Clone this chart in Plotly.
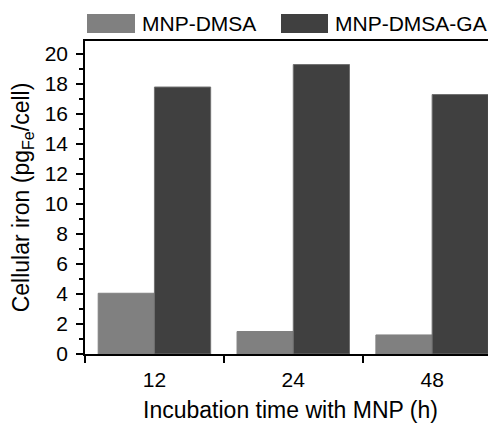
import plotly.graph_objects as go

categories = ["12", "24", "48"]
mnp_dmsa = [4.05, 1.5, 1.27]
mnp_dmsa_ga = [17.8, 19.3, 17.3]
series_names = ["MNP-DMSA", "MNP-DMSA-GA"]
y_ticks = list(range(0, 21, 2))

FONT = "Liberation Sans, Arial, sans-serif"
C1 = "#808080"
C2 = "#404040"

fig = go.Figure()
fig.add_trace(go.Bar(x=categories, y=mnp_dmsa, name=series_names[0],
                     marker=dict(color=C1, line=dict(color=C1, width=1)), showlegend=False))
fig.add_trace(go.Bar(x=categories, y=mnp_dmsa_ga, name=series_names[1],
                     marker=dict(color=C2, line=dict(color="#707070", width=1)), showlegend=False))

# page has an 8px body margin; figure origin at (8, 8)
OFF = 8
W, H = 496 - OFF, 423 - OFF
L, R, T, B = 85 - OFF, 0, 41 - OFF, 423 - 354
pw = W - L - R
ph = H - T - B

def px2paper_x(px):
    return (px - OFF - L) / pw

def px2paper_y(py):
    return (H - B - (py - OFF)) / ph

# custom legend (large swatches)
legend_items = [(87, 135, 142), (281, 328, 335)]
for (x0, x1, tx), name, col in zip(legend_items, series_names, [C1, C2]):
    fig.add_shape(type="rect", xref="paper", yref="paper",
                  x0=px2paper_x(x0), x1=px2paper_x(x1),
                  y0=px2paper_y(33), y1=px2paper_y(14),
                  fillcolor=col, line=dict(width=0))
    fig.add_annotation(xref="paper", yref="paper", x=px2paper_x(tx), y=px2paper_y(23.5),
                       text=name, showarrow=False, xanchor="left", yanchor="middle",
                       xshift=-2, font=dict(family=FONT, size=21, color="black"))

fig.update_layout(
    width=W, height=H,
    margin=dict(l=L, r=R, t=T, b=B, pad=0),
    plot_bgcolor="white", paper_bgcolor="white",
    barmode="group", bargap=0.19, bargroupgap=0,
    font=dict(family=FONT, size=21, color="black"),
    xaxis=dict(
        type="category", range=[-0.5, 2.46],
        showline=True, linecolor="black", linewidth=1.5, mirror=True,
        ticks="outside", tickson="boundaries", ticklen=7, tickcolor="black", tickwidth=1.5,
        ticklabelstandoff=6,
        showgrid=False, zeroline=False,
        title=dict(text="Incubation time with MNP (h)", standoff=12,
                   font=dict(family=FONT, size=23)),
        tickfont=dict(family=FONT, size=21),
        automargin=False,
    ),
    yaxis=dict(
        range=[0, 20.87],
        tickvals=y_ticks,
        showline=True, linecolor="black", linewidth=1.5, mirror=True,
        ticks="outside", ticklen=7, tickcolor="black", tickwidth=1.5,
        ticklabelstandoff=4,
        minor=dict(dtick=1, ticks="outside", ticklen=4, tickcolor="black", tickwidth=1.5),
        showgrid=False, zeroline=False,
        title=dict(text="Cellular iron (pg<sub>Fe</sub>/cell)", standoff=10,
                   font=dict(family=FONT, size=23)),
        tickfont=dict(family=FONT, size=21),
        automargin=False,
    ),
)

fig.write_html("out.html")
